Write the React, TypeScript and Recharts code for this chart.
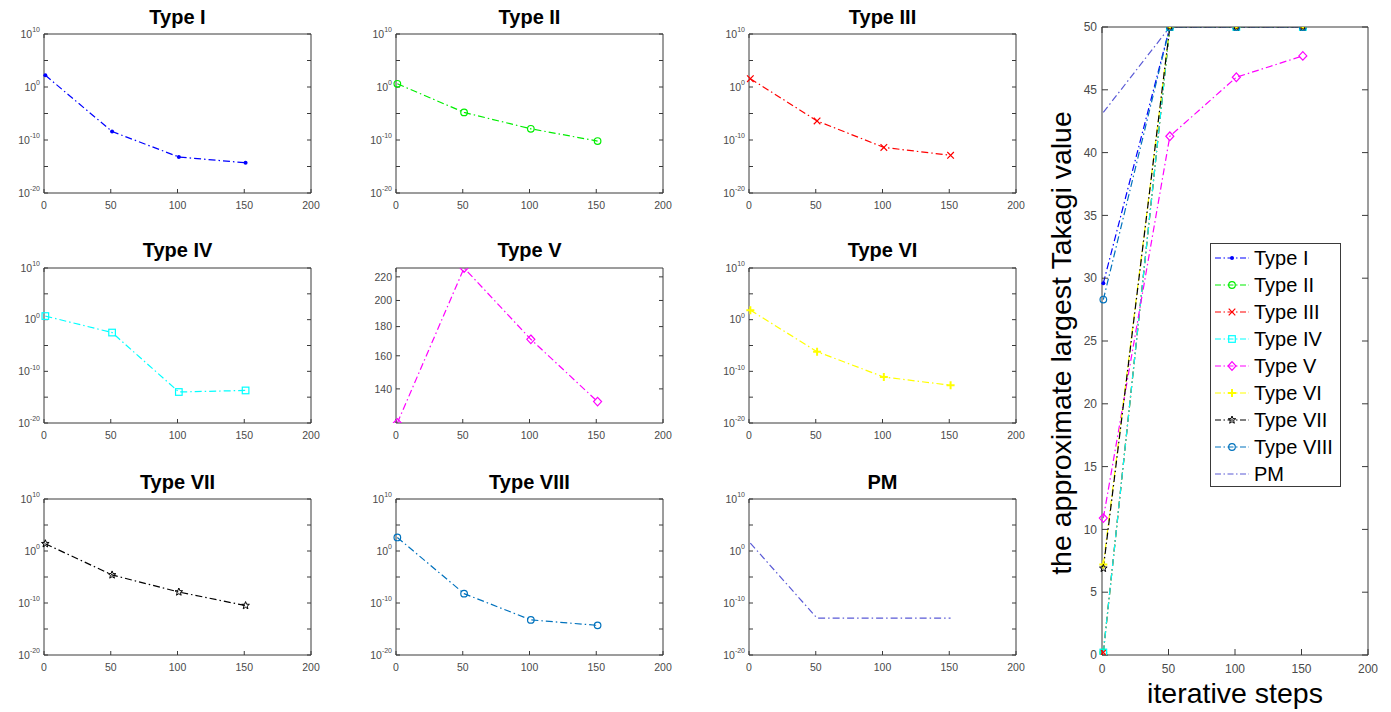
import { LineChart, Line, XAxis, YAxis, Legend } from 'recharts';

const FONT = '"Liberation Sans", Arial, Helvetica, sans-serif';
const DASH = '7 3 1.5 3';
const FRAME = '#3a3a3a';
const TICK = '#4a4a4a';

const steps = [1, 51, 101, 151];

// residuals per iteration (semilogy panels)
const errTypeI = [1.6e2, 4e-9, 6.3e-14, 5e-15];
const errTypeII = [4, 1.6e-5, 1.3e-8, 6.3e-11];
const errTypeIII = [37, 4e-7, 4e-12, 1.3e-13];
const errTypeIV = [5, 3.2e-3, 1e-14, 2e-14];
const valTypeV = [122, 228, 171, 133];
const errTypeVI = [70, 6.3e-7, 8e-12, 2e-13];
const errTypeVII = [25, 2.5e-5, 1.3e-8, 3.2e-11];
const errTypeVIII = [400, 6.3e-9, 5.6e-14, 5e-15];
const errPM = [33, 1.2e-13, 1.2e-13, 1.2e-13];

// approximate largest Takagi value (right panel)
const takTypeI = [29.6, 50, 50, 50];
const takTypeII = [0.2, 50, 50, 50];
const takTypeIII = [0.2, 50, 50, 50];
const takTypeIV = [0.2, 50, 50, 50];
const takTypeV = [10.9, 41.3, 46.0, 47.7];
const takTypeVI = [7.2, 50, 50, 50];
const takTypeVII = [6.9, 50, 50, 50];
const takTypeVIII = [28.3, 50, 50, 50];
const takPM = [43.2, 50, 50, 50];

const xTicks = [0, 50, 100, 150, 200];
const logTicks = [1e10, 1e5, 1, 1e-5, 1e-10, 1e-15, 1e-20];
const logDomain = [1e-20, 1e10];
const typeVTicks = [140, 160, 180, 200, 220];
const typeVDomain = [122, 228];
const takTicks = [0, 5, 10, 15, 20, 25, 30, 35, 40, 45, 50];

const seriesNames = ['Type I', 'Type II', 'Type III', 'Type IV', 'Type V', 'Type VI', 'Type VII', 'Type VIII', 'PM'];
const seriesColors = ['#0000ff', '#00ee00', '#ff0000', '#00ffff', '#ff00ff', '#ffff00', '#000000', '#0072bd', '#5a5ad6'];
const seriesMarkers = ['dot', 'circle', 'x', 'square', 'diamond', 'plus', 'star', 'circle', 'none'];

const residuals = [errTypeI, errTypeII, errTypeIII, errTypeIV, valTypeV, errTypeVI, errTypeVII, errTypeVIII, errPM];
const takagi = [takTypeI, takTypeII, takTypeIII, takTypeIV, takTypeV, takTypeVI, takTypeVII, takTypeVIII, takPM];

// subplot grid
const colLefts = [44, 396, 749];
const rowTops = [34, 268, 499];
const rowHeights = [159, 155, 156];
const titleBaselines = [24, 257, 489];
const boxW = 267;

function Marker({ kind, cx, cy, color }: { kind: string; cx?: number; cy?: number; color: string }) {
  if (cx == null || cy == null || kind === 'none') return <g />;
  const r = 3.3;
  const sw = 1.2;
  switch (kind) {
    case 'dot':
      return <circle cx={cx} cy={cy} r={2} fill={color} />;
    case 'circle':
      return <circle cx={cx} cy={cy} r={r} fill="none" stroke={color} strokeWidth={sw} />;
    case 'x':
      return (
        <path d={`M${cx - r},${cy - r}L${cx + r},${cy + r}M${cx - r},${cy + r}L${cx + r},${cy - r}`}
          stroke={color} strokeWidth={sw} />
      );
    case 'square':
      return <rect x={cx - r} y={cy - r} width={2 * r} height={2 * r} fill="none" stroke={color} strokeWidth={sw} />;
    case 'diamond':
      return (
        <path d={`M${cx},${cy - 4.3}L${cx + 4},${cy}L${cx},${cy + 4.3}L${cx - 4},${cy}Z`}
          fill="none" stroke={color} strokeWidth={sw} />
      );
    case 'plus':
      return (
        <path d={`M${cx - 4},${cy}L${cx + 4},${cy}M${cx},${cy - 4}L${cx},${cy + 4}`}
          stroke={color} strokeWidth={2} />
      );
    case 'star': {
      const pts: string[] = [];
      for (let k = 0; k < 10; k++) {
        const a = -Math.PI / 2 + (k * Math.PI) / 5;
        const rr = k % 2 === 0 ? 4 : 1.7;
        pts.push(`${cx + rr * Math.cos(a)},${cy + rr * Math.sin(a)}`);
      }
      return <polygon points={pts.join(' ')} fill="none" stroke={color} strokeWidth={1} />;
    }
    default:
      return <g />;
  }
}

const blankTick = () => <g />;

function PowTick({ x, y, payload }: any) {
  const e = Math.round(Math.log10(payload.value));
  if (e % 10 !== 0) return <g />;
  return (
    <text x={x} y={y} textAnchor="end" fill={TICK} fontFamily={FONT} fontSize={10.5}>
      <tspan dy={3.8}>10</tspan>
      <tspan dy={-5.5} fontSize={7}>{e}</tspan>
    </text>
  );
}

function PlainTick({ x, y, payload }: any) {
  return (
    <text x={x} y={y} dy={3.8} textAnchor="end" fill={TICK} fontFamily={FONT} fontSize={10.5}>
      {payload.value}
    </text>
  );
}

function SmallPanel({ idx }: { idx: number }) {
  const row = Math.floor(idx / 3);
  const col = idx % 3;
  const left = colLefts[col];
  const top = rowTops[row];
  const h = rowHeights[row];
  const linearish = idx === 4;
  const yDomain = linearish ? typeVDomain : logDomain;
  const yTicks = linearish ? typeVTicks : logTicks;
  const data = steps.map((s, i) => ({ step: s, v: residuals[idx][i] }));
  const ML = 40, MT = 8, MR = 12, MB = 22;
  const color = seriesColors[idx];

  return (
    <>
      <div style={{
        position: 'absolute', left, top: titleBaselines[row] - 17, width: boxW,
        textAlign: 'center', font: `bold 20px/20px ${FONT}`, color: '#000',
      }}>
        {seriesNames[idx]}
      </div>
      <div style={{ position: 'absolute', left: left - ML, top: top - MT }}>
        <LineChart width={boxW + ML + MR} height={h + MT + MB} data={data}
          margin={{ top: MT, right: MR, bottom: 0, left: 0 }}>
          <XAxis dataKey="step" type="number" domain={[0, 200]} ticks={xTicks} interval={0}
            height={MB} tickSize={-4} tickMargin={13}
            axisLine={{ stroke: FRAME }} tickLine={{ stroke: FRAME }}
            tick={{ fontSize: 10.5, fill: TICK, fontFamily: FONT }} />
          <XAxis xAxisId="top" orientation="top" mirror type="number" domain={[0, 200]} ticks={xTicks}
            interval={0} tickSize={4} axisLine={{ stroke: FRAME }} tickLine={{ stroke: FRAME }} tick={blankTick} />
          <YAxis type="number" scale="log" domain={yDomain} ticks={yTicks} interval={0} allowDataOverflow
            width={ML} tickSize={-4} tickMargin={8}
            axisLine={{ stroke: FRAME }} tickLine={{ stroke: FRAME }}
            tick={linearish ? <PlainTick /> : <PowTick />} />
          <YAxis yAxisId="right" orientation="right" mirror type="number" scale="log" domain={yDomain}
            ticks={yTicks} interval={0} allowDataOverflow tickSize={4}
            axisLine={{ stroke: FRAME }} tickLine={{ stroke: FRAME }} tick={blankTick} />
          <Line dataKey="v" stroke={color} strokeWidth={1.2} strokeDasharray={DASH}
            isAnimationActive={false}
            dot={(p: any) => <Marker key={`m${idx}-${p.index}`} kind={seriesMarkers[idx]} cx={p.cx} cy={p.cy} color={color} />}
            activeDot={false} />
        </LineChart>
      </div>
    </>
  );
}

function TakagiLegend() {
  return (
    <div style={{
      width: 131, height: 244, boxSizing: 'border-box', border: `1px solid ${FRAME}`,
      background: '#fff', padding: '1px 0', fontFamily: FONT, fontSize: 20, color: '#000',
    }}>
      {seriesNames.map((n, i) => (
        <div key={n} style={{ display: 'flex', alignItems: 'center', height: 26.9 }}>
          <svg width={42} height={20} style={{ flex: 'none' }}>
            <line x1={4} y1={10} x2={38} y2={10} stroke={seriesColors[i]} strokeWidth={1.2} strokeDasharray="6 2.5 1.5 2.5" />
            <Marker kind={seriesMarkers[i]} cx={21} cy={10} color={seriesColors[i]} />
          </svg>
          <span style={{ marginLeft: 1, lineHeight: '20px', whiteSpace: 'nowrap' }}>{n}</span>
        </div>
      ))}
    </div>
  );
}

function TakagiPanel() {
  const left = 1102, top = 27, w = 266, h = 628;
  const ML = 30, MT = 10, MR = 10, MB = 25;
  const data = steps.map((s, i) => {
    const row: any = { step: s };
    takagi.forEach((arr, k) => { row[`s${k}`] = arr[i]; });
    return row;
  });

  return (
    <div style={{ position: 'absolute', left: left - ML, top: top - MT }}>
      <LineChart width={w + ML + MR} height={h + MT + MB} data={data}
        margin={{ top: MT, right: MR, bottom: 0, left: 0 }}>
        <XAxis dataKey="step" type="number" domain={[0, 200]} ticks={xTicks} interval={0}
          height={MB} tickSize={-6} tickMargin={15}
          axisLine={{ stroke: FRAME }} tickLine={{ stroke: FRAME }}
          tick={{ fontSize: 12, fill: TICK, fontFamily: FONT }} />
        <XAxis xAxisId="top" orientation="top" mirror type="number" domain={[0, 200]} ticks={xTicks}
          interval={0} tickSize={6} axisLine={{ stroke: FRAME }} tickLine={{ stroke: FRAME }} tick={blankTick} />
        <YAxis type="number" domain={[0, 50]} ticks={takTicks} interval={0} allowDataOverflow
          width={ML} tickSize={-6} tickMargin={11}
          axisLine={{ stroke: FRAME }} tickLine={{ stroke: FRAME }}
          tick={{ fontSize: 12, fill: TICK, fontFamily: FONT }} />
        <YAxis yAxisId="right" orientation="right" mirror type="number" domain={[0, 50]} ticks={takTicks}
          interval={0} allowDataOverflow tickSize={6}
          axisLine={{ stroke: FRAME }} tickLine={{ stroke: FRAME }} tick={blankTick} />
        {seriesNames.map((n, k) => (
          <Line key={n} name={n} dataKey={`s${k}`} stroke={seriesColors[k]} strokeWidth={1.2}
            strokeDasharray={DASH} isAnimationActive={false} activeDot={false}
            dot={(p: any) => <Marker key={`t${k}-${p.index}`} kind={seriesMarkers[k]} cx={p.cx} cy={p.cy} color={seriesColors[k]} />} />
        ))}
        <Legend layout="horizontal" verticalAlign="middle" align="center"
          wrapperStyle={{ left: 1210 - (left - ML), top: 243 - (top - MT), width: 131, height: 244 }}
          content={() => <TakagiLegend />} />
      </LineChart>
    </div>
  );
}

export default function App() {
  return (
    <div style={{ position: 'absolute', left: 0, top: 0, width: 1391, height: 712, background: '#fff', overflow: 'hidden' }}>
      {residuals.map((_, i) => <SmallPanel key={i} idx={i} />)}
      <TakagiPanel />
      <div style={{
        position: 'absolute', left: 1061 - 300, top: 343 - 17, width: 600, height: 34,
        textAlign: 'center', font: `28.5px/34px ${FONT}`, color: '#000',
        transform: 'rotate(-90deg)', transformOrigin: 'center', whiteSpace: 'nowrap',
      }}>
        the approximate largest Takagi value
      </div>
      <div style={{
        position: 'absolute', left: 1235 - 150, top: 676, width: 300, height: 34,
        textAlign: 'center', font: `28.5px/34px ${FONT}`, color: '#000', whiteSpace: 'nowrap',
      }}>
        iterative steps
      </div>
    </div>
  );
}
